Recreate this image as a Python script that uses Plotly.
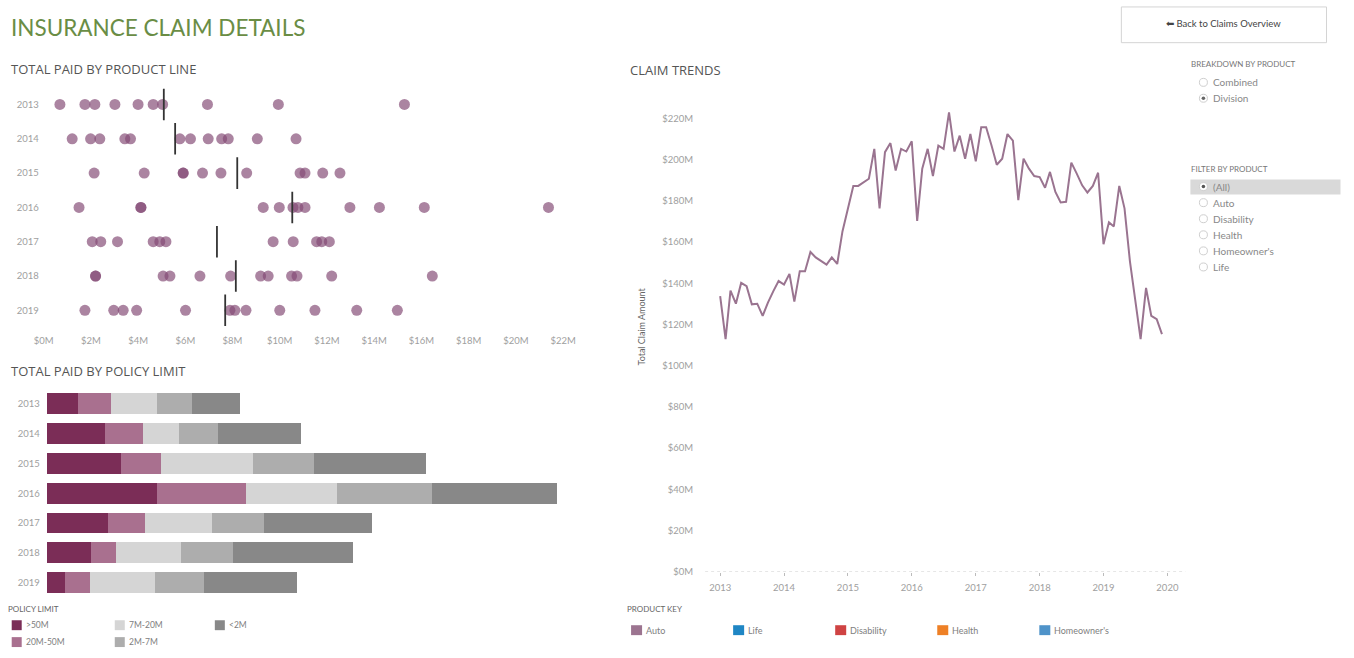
import plotly.graph_objects as go
import pandas as pd

W, H = 1354, 658
FONT = "Lato"
SEC = "Open Sans"

# ---------------- data ----------------
years = ["2013", "2014", "2015", "2016", "2017", "2018", "2019"]

# Total paid by product line ($M), one dot per product line / division
paid_2013 = [0.69, 1.75, 2.17, 3.02, 4.00, 4.64, 5.04, 6.94, 9.94, 15.28]
paid_2014 = [1.21, 1.99, 2.38, 3.44, 3.68, 5.77, 6.22, 6.97, 7.54, 7.82, 9.05, 10.69]
paid_2015 = [2.14, 4.26, 5.91, 5.91, 6.73, 7.51, 8.60, 10.86, 11.07, 11.82, 12.55]
paid_2016 = [1.50, 4.12, 4.12, 9.30, 9.98, 10.56, 10.77, 11.07, 12.97, 14.22, 16.12, 21.38]
paid_2017 = [2.06, 2.42, 3.13, 4.64, 4.92, 5.18, 9.72, 10.57, 11.56, 11.78, 12.10]
paid_2018 = [2.20, 2.20, 5.06, 5.35, 6.62, 7.92, 9.19, 9.51, 10.50, 10.73, 12.20, 16.46]
paid_2019 = [1.75, 2.97, 3.37, 3.94, 6.01, 7.89, 8.10, 8.57, 10.00, 11.49, 13.26, 14.98]
paid_ref_line = [5.09, 5.57, 8.20, 10.53, 7.34, 8.14, 7.69]
paid_ticks = [0, 2, 4, 6, 8, 10, 12, 14, 16, 18, 20, 22]
paid_tick_labels = ["$0M", "$2M", "$4M", "$6M", "$8M", "$10M", "$12M", "$14M",
                    "$16M", "$18M", "$20M", "$22M"]

# Total paid by policy limit ($M)
policy_limits = [">50M", "20M-50M", "7M-20M", "2M-7M", "<2M"]
limit_gt50 = [15.8, 28.9, 37.1, 54.9, 30.8, 22.0, 9.1]
limit_20_50 = [16.4, 19.3, 20.2, 44.8, 18.1, 12.5, 12.3]
limit_7_20 = [22.7, 17.7, 45.6, 45.3, 33.9, 32.7, 32.7]
limit_2_7 = [17.7, 19.6, 30.5, 47.3, 25.7, 26.0, 24.4]
limit_lt2 = [23.9, 41.4, 55.9, 62.5, 54.2, 59.6, 46.4]
policy_colors = ["#7b2d57", "#a9708f", "#d5d5d5", "#adadad", "#888888"]

# Claim trends: monthly total claim amount ($M)
claims_2013 = [133.8, 112.9, 136.5, 130.1, 140.2, 138.6, 129.8, 130.1, 124.2, 130.6, 136.2, 141.1]
claims_2014 = [139.4, 144.6, 131.1, 145.9, 145.9, 155.2, 152.6, 151.0, 149.1, 152.6, 149.4, 165.2]
claims_2015 = [176.4, 187.3, 187.3, 189.2, 190.8, 205.3, 176.4, 203.7, 208.1, 194.8, 205.3, 204.0]
claims_2016 = [209.0, 170.3, 195.7, 205.3, 192.1, 206.9, 205.3, 223.0, 204.0, 211.7, 200.5, 212.5]
claims_2017 = [199.2, 215.8, 215.8, 206.9, 197.6, 200.5, 212.5, 209.3, 180.4, 200.5, 195.7, 192.1]
claims_2018 = [191.6, 186.4, 194.1, 184.4, 179.3, 179.6, 198.6, 193.3, 187.6, 184.1, 187.3, 193.7]
claims_2019 = [159.0, 169.6, 167.6, 187.3, 176.4, 150.7, 131.4, 112.9, 137.8, 124.2, 122.6, 115.3]
claim_ticks = [0, 20, 40, 60, 80, 100, 120, 140, 160, 180, 200, 220]
claim_tick_labels = ["$0M", "$20M", "$40M", "$60M", "$80M", "$100M", "$120M", "$140M",
                     "$160M", "$180M", "$200M", "$220M"]
trend_years = ["2013", "2014", "2015", "2016", "2017", "2018", "2019", "2020"]

product_key = ["Auto", "Life", "Disability", "Health", "Homeowner's"]
product_colors = ["#9c7490", "#1f86c4", "#cf4343", "#ee8026", "#4f93c9"]

breakdown_options = ["Combined", "Division"]
filter_options = ["(All)", "Auto", "Disability", "Health", "Homeowner's", "Life"]

# ---------------- helpers ----------------
def fx(x):
    # horizontal page position -> paper fraction (compensates the page offset seen in the capture)
    return ((x - 8.3) / 0.9935) / W


def fy(y):
    return 1 - y / H


annotations = []
shapes = []


def text(x, y, s, size, color, anchor="left", family=FONT, angle=0):
    annotations.append(dict(
        x=fx(x), y=fy(y), xref="paper", yref="paper", text=s, showarrow=False,
        xanchor=anchor, yanchor="middle", textangle=angle, borderpad=0,
        font=dict(family=family, size=size, color=color)))


def rect(x0, y0, x1, y1, fill=None, line=None, lw=1):
    shapes.append(dict(type="rect", xref="paper", yref="paper",
                       x0=fx(x0), x1=fx(x1), y0=fy(y1), y1=fy(y0),
                       fillcolor=fill if fill else "rgba(0,0,0,0)",
                       line=dict(color=line if line else "rgba(0,0,0,0)", width=lw if line else 0)))


def circle(cx, cy, r, fill=None, line=None, lw=1):
    shapes.append(dict(type="circle", xref="paper", yref="paper",
                       x0=fx(cx - r), x1=fx(cx + r), y0=fy(cy + r), y1=fy(cy - r),
                       fillcolor=fill if fill else "rgba(0,0,0,0)",
                       line=dict(color=line if line else "rgba(0,0,0,0)", width=lw if line else 0)))


fig = go.Figure()

# ---------------- dot plot ----------------
paid_by_year = [paid_2013, paid_2014, paid_2015, paid_2016, paid_2017, paid_2018, paid_2019]
dot_x, dot_y = [], []
for i, arr in enumerate(paid_by_year):
    dot_x += arr
    dot_y += [i] * len(arr)
fig.add_trace(go.Scatter(
    x=dot_x, y=dot_y, mode="markers", xaxis="x", yaxis="y",
    marker=dict(size=11, color="rgb(131,74,116)", opacity=0.68, line=dict(width=0)),
    showlegend=False, hoverinfo="x+y"))

ref_x, ref_y = [], []
for i, v in enumerate(paid_ref_line):
    ref_x += [v, v, None]
    ref_y += [i - 0.46, i + 0.46, None]
fig.add_trace(go.Scatter(
    x=ref_x, y=ref_y, mode="lines", xaxis="x", yaxis="y",
    line=dict(color="#333333", width=1.8), showlegend=False, hoverinfo="skip"))

# ---------------- stacked bars ----------------
limit_series = [limit_gt50, limit_20_50, limit_7_20, limit_2_7, limit_lt2]
for name, vals, col in zip(policy_limits, limit_series, policy_colors):
    fig.add_trace(go.Bar(
        x=vals, y=list(range(len(years))), orientation="h", name=name,
        xaxis="x2", yaxis="y2", marker=dict(color=col, line=dict(width=0)),
        width=0.7, showlegend=False))

# ---------------- claim trends line ----------------
claims = claims_2013 + claims_2014 + claims_2015 + claims_2016 + claims_2017 + claims_2018 + claims_2019
months = pd.date_range(f"{years[0]}-01-01", periods=len(claims), freq="MS")
fig.add_trace(go.Scatter(
    x=months, y=claims, mode="lines", xaxis="x3", yaxis="y3",
    line=dict(color="#9a7490", width=2), showlegend=False))

shapes.append(dict(type="line", xref="x3 domain", yref="y3", x0=0, x1=1, y0=0, y1=0,
                   line=dict(color="#c8c8c8", width=1, dash="dot")))

tick_font = dict(family=FONT, size=9.5, color="#a0a0a0")

fig.update_layout(
    width=W, height=H, margin=dict(l=0, r=0, t=0, b=0),
    paper_bgcolor="white", plot_bgcolor="white",
    barmode="stack", bargap=0.3,
    xaxis=dict(domain=[fx(42), fx(590)], range=[-0.08, 23.14], tickvals=paid_ticks,
               ticktext=paid_tick_labels, tickfont=tick_font, showgrid=False,
               zeroline=False, showline=False, ticks="", anchor="y", ticklabelstandoff=6),
    yaxis=dict(domain=[fy(330), fy(88)], range=[6.5, -0.5], tickvals=list(range(len(years))),
               ticktext=years, tickfont=tick_font, showgrid=False, zeroline=False,
               showline=False, ticks="", anchor="x", ticklabelstandoff=2),
    xaxis2=dict(domain=[fx(47), fx(590)], range=[0, 271.5], visible=False, anchor="y2"),
    yaxis2=dict(domain=[fy(602), fy(392)], range=[6.5, -0.5], tickvals=list(range(len(years))),
                ticktext=years, tickfont=tick_font, showgrid=False, zeroline=False,
                showline=False, ticks="", anchor="x2", ticklabelstandoff=6),
    xaxis3=dict(domain=[fx(705), fx(1185)], type="date", range=["2012-10-07", "2020-04-13"],
                tickvals=[f"{y}-01-01" for y in trend_years], ticktext=trend_years,
                tickfont=tick_font, showgrid=False, zeroline=False, showline=False,
                ticks="outside", ticklen=3, tickcolor="#bbbbbb", anchor="y3",
                ticklabelstandoff=4),
    yaxis3=dict(domain=[fy(576), fy(95)], range=[0, 231.8], tickvals=claim_ticks,
                ticktext=claim_tick_labels, tickfont=tick_font, showgrid=False,
                zeroline=False, showline=False, ticks="", anchor="x3", ticklabelstandoff=11),
)

# ---------------- text / decorations ----------------
text(10, 28, "INSURANCE CLAIM DETAILS", 22.5, "#6a8d45")
text(10, 70, "TOTAL PAID BY PRODUCT LINE", 13, "#555555", family=SEC)
text(10, 374, "TOTAL PAID BY POLICY LIMIT", 13, "#555555", family=SEC)
text(629, 71, "CLAIM TRENDS", 13, "#555555", family=SEC)
text(641, 329, "Total Claim Amount", 9, "#666666", anchor="center", angle=-90)

# policy limit legend (column-major grid)
text(7, 614, "POLICY LIMIT", 8, "#666666")
legend_pos = [(12, 630), (12, 647), (115, 630), (115, 647), (215, 630)]
for name, col, (lx, ly) in zip(policy_limits, policy_colors, legend_pos):
    rect(lx, ly - 5, lx + 10, ly + 5, fill=col)
    text(lx + 13, ly, name, 8.5, "#808080")

# product key
text(626, 614, "PRODUCT KEY", 8, "#666666")
key_x = [631, 733, 835, 937, 1039]
for name, col, kx in zip(product_key, product_colors, key_x):
    rect(kx, 630, kx + 11, 640, fill=col)
    text(kx + 14, 635, name, 9, "#808080")

# back button
rect(1121, 7, 1326, 43, line="#d4d4d4", lw=1)
text(1223, 24, "⬅ Back to Claims Overview", 9.5, "#444444", anchor="center")

# breakdown radio group
text(1190, 64, "BREAKDOWN BY PRODUCT", 8, "#777777")
for j, opt in enumerate(breakdown_options):
    cy = 83 + 16 * j
    circle(1203, cy, 4, fill="white", line="#cfcfcf", lw=1)
    if opt == "Division":
        circle(1203, cy, 1.8, fill="#666666")
    text(1212, cy, opt, 10, "#888888")

# filter radio group
text(1190, 170, "FILTER BY PRODUCT", 8, "#777777")
rect(1190, 181, 1340, 196, fill="#d9d9d9")
for j, opt in enumerate(filter_options):
    cy = 188 + 16.2 * j
    circle(1203, cy, 4, fill="white", line="#cfcfcf", lw=1)
    if j == 0:
        circle(1203, cy, 1.8, fill="#555555")
    text(1212, cy, opt, 10, "#888888")

fig.update_layout(annotations=annotations, shapes=shapes)
fig.write_html("out.html", config={"displayModeBar": False},
               post_script="document.body.style.margin='0px';")
